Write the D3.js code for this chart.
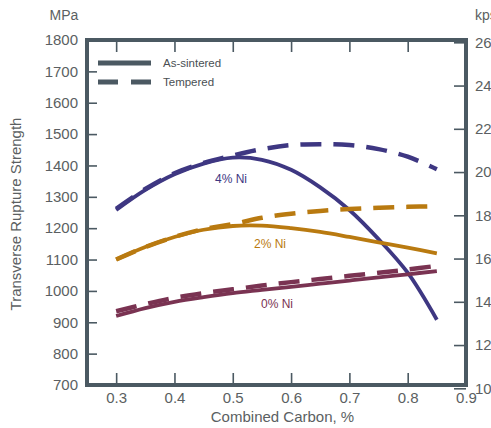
<!DOCTYPE html>
<html>
<head>
<meta charset="utf-8">
<script src="https://cdn.jsdelivr.net/npm/d3@7/dist/d3.min.js"></script>
<style>
  html, body { margin: 0; padding: 0; background: #fff; overflow: hidden; }
  svg { display: block; font-family: "Liberation Sans", Arial, sans-serif; }
</style>
</head>
<body>
<svg id="chart" width="491" height="428"></svg>
<script>
// Combined carbon content (%)
const carbon = [0.30, 0.35, 0.40, 0.45, 0.50, 0.55, 0.60, 0.65, 0.70, 0.75, 0.80, 0.85];

// Transverse rupture strength, MPa
const ni4Sintered  = [1258, 1322, 1372, 1406, 1425, 1418, 1386, 1330, 1258, 1165, 1058, 908];
const ni4Tempered  = [1262, 1325, 1375, 1408, 1432, 1452, 1465, 1468, 1465, 1452, 1428, 1388];
const ni2Sintered  = [1100, 1140, 1172, 1195, 1207, 1208, 1200, 1188, 1172, 1155, 1138, 1120];
const ni2Tempered  = [1100, 1140, 1172, 1197, 1213, 1233, 1246, 1255, 1261, 1265, 1268, 1270];
const ni0Sintered  = [920, 945, 965, 980, 993, 1003, 1013, 1023, 1033, 1043, 1053, 1063];
const ni0Tempered  = [935, 958, 978, 993, 1005, 1017, 1028, 1038, 1048, 1058, 1068, 1080];

// Axis ticks
const xTicks = [0.3, 0.4, 0.5, 0.6, 0.7, 0.8, 0.9];
const mpaTicks = [700, 800, 900, 1000, 1100, 1200, 1300, 1400, 1500, 1600, 1700, 1800];
const ksiTicks = [100, 120, 140, 160, 180, 200, 220, 240, 260];

// Curve labels and series names
const seriesNames = ["4% Ni", "2% Ni", "0% Ni"];
const legendNames = ["As-sintered", "Tempered"];

const MPA_PER_KSI = 6.894757;

const svg = d3.select("#chart");
const L = 87, R = 466, T = 40, B = 385;
const frameColor = "#4b5962";
const textColor = "#5b5f62";

const x = d3.scaleLinear().domain([0.25, 0.9]).range([L, R]);
const y = d3.scaleLinear().domain([700, 1800]).range([B, T]);
const yKsi = d3.scaleLinear().domain([700 / MPA_PER_KSI, 1800 / MPA_PER_KSI]).range([B, T]);

// Inward ticks on all four sides
function styleAxis(g) {
  g.select(".domain").remove();
  g.selectAll(".tick line").attr("stroke", frameColor).attr("stroke-width", 1.6);
  g.selectAll(".tick text").attr("fill", textColor).attr("font-size", 15);
}

svg.append("g").attr("transform", `translate(0,${B})`)
  .call(d3.axisBottom(x).tickValues(xTicks).tickSizeInner(-12).tickPadding(7).tickFormat(d3.format(".1f")))
  .call(styleAxis);

svg.append("g").attr("transform", `translate(0,${T})`)
  .call(d3.axisTop(x).tickValues(xTicks).tickSizeInner(-12).tickFormat(""))
  .call(styleAxis);

svg.append("g").attr("transform", `translate(${L},0)`)
  .call(d3.axisLeft(y).tickValues(mpaTicks).tickSizeInner(-10).tickPadding(9).tickFormat(d3.format("d")))
  .call(styleAxis);

svg.append("g").attr("transform", `translate(${R},0)`)
  .call(d3.axisRight(yKsi).tickValues(ksiTicks).tickSizeInner(-12).tickPadding(9).tickFormat(d3.format("d")))
  .call(styleAxis);

// Plot frame
svg.append("rect")
  .attr("x", L).attr("y", T).attr("width", R - L).attr("height", B - T)
  .attr("fill", "none").attr("stroke", frameColor).attr("stroke-width", 4);

// Unit labels
svg.append("text").attr("x", 64).attr("y", 20).attr("text-anchor", "middle")
  .attr("fill", textColor).attr("font-size", 14).text("MPa");
svg.append("text").attr("x", 475).attr("y", 20)
  .attr("fill", textColor).attr("font-size", 14).text("kpsi");

// Axis titles
svg.append("text").attr("x", (L + R) / 2 + 6).attr("y", 422).attr("text-anchor", "middle")
  .attr("fill", textColor).attr("font-size", 15).text("Combined Carbon, %");
svg.append("text").attr("transform", "translate(21,214) rotate(-90)").attr("text-anchor", "middle")
  .attr("fill", textColor).attr("font-size", 15).text("Transverse Rupture Strength");

// Curves
const line = d3.line().x(d => x(d[0])).y(d => y(d[1])).curve(d3.curveCatmullRom.alpha(0.5));
const pair = vals => carbon.map((c, i) => [c, vals[i]]);

const series = [
  { name: seriesNames[0], color: "#3e3782", sintered: ni4Sintered, tempered: ni4Tempered, lx: 231, ly: 183 },
  { name: seriesNames[1], color: "#b97a10", sintered: ni2Sintered, tempered: ni2Tempered, lx: 270, ly: 248 },
  { name: seriesNames[2], color: "#7a3352", sintered: ni0Sintered, tempered: ni0Tempered, lx: 277, ly: 308 }
];

series.forEach(s => {
  svg.append("path").datum(pair(s.tempered)).attr("d", line)
    .attr("fill", "none").attr("stroke", s.color).attr("stroke-width", 4.5)
    .attr("stroke-dasharray", "21,12");
  svg.append("path").datum(pair(s.sintered)).attr("d", line)
    .attr("fill", "none").attr("stroke", s.color).attr("stroke-width", 3.8);
  svg.append("text").attr("x", s.lx).attr("y", s.ly).attr("text-anchor", "middle")
    .attr("fill", s.color).attr("font-size", 12).text(s.name);
});

// Legend
const legend = svg.append("g");
[[63, null], [82, "20,13"]].forEach(([ly, dash], i) => {
  legend.append("line").attr("x1", 98).attr("x2", 151).attr("y1", ly).attr("y2", ly)
    .attr("stroke", frameColor).attr("stroke-width", 5)
    .attr("stroke-dasharray", dash);
  legend.append("text").attr("x", 163).attr("y", ly + 4)
    .attr("fill", "#4a4f53").attr("font-size", 11.5).text(legendNames[i]);
});
</script>
</body>
</html>
